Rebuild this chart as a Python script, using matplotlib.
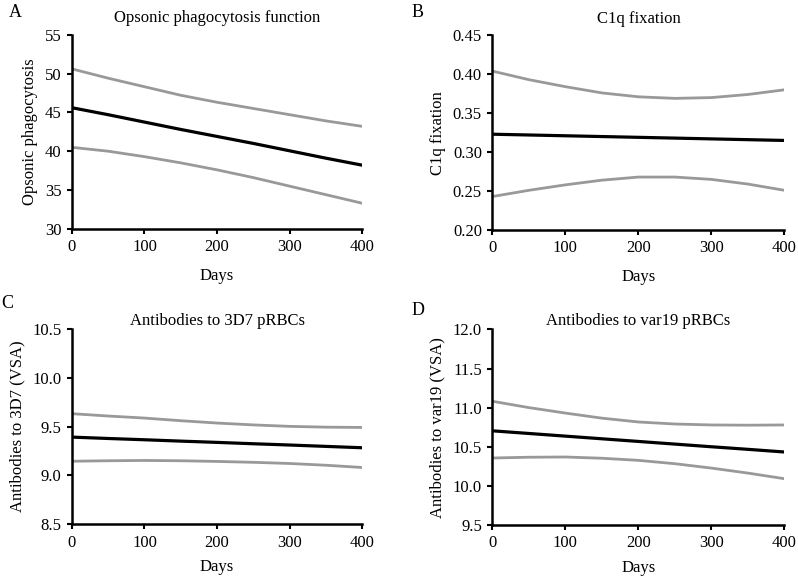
import matplotlib.pyplot as plt

plt.rcParams['font.family'] = ['Liberation Serif', 'DejaVu Serif']
plt.rcParams['font.size'] = 12

days = [0, 50, 100, 150, 200, 250, 300, 350, 400]

# A - opsonic phagocytosis
a_upper = [50.6, 49.4, 48.3, 47.2, 46.3, 45.5, 44.7, 43.9, 43.2]
a_mean = [45.6, 44.7, 43.75, 42.8, 41.9, 41.0, 40.05, 39.1, 38.2]
a_lower = [40.5, 40.0, 39.3, 38.5, 37.6, 36.6, 35.5, 34.4, 33.3]

# B - C1q fixation
b_upper = [0.404, 0.393, 0.384, 0.376, 0.371, 0.369, 0.370, 0.374, 0.380]
b_mean = [0.323, 0.322, 0.321, 0.320, 0.319, 0.318, 0.317, 0.316, 0.315]
b_lower = [0.243, 0.251, 0.258, 0.264, 0.268, 0.268, 0.265, 0.259, 0.251]

# C - 3D7 pRBCs
c_upper = [9.632, 9.608, 9.587, 9.560, 9.536, 9.517, 9.502, 9.494, 9.491]
c_mean = [9.392, 9.378, 9.365, 9.351, 9.338, 9.324, 9.311, 9.297, 9.283]
c_lower = [9.145, 9.150, 9.153, 9.150, 9.143, 9.134, 9.122, 9.104, 9.081]

# D - var19 pRBCs
d_upper = [11.081, 11.0, 10.93, 10.865, 10.816, 10.790, 10.778, 10.775, 10.778]
d_mean = [10.703, 10.669, 10.635, 10.601, 10.567, 10.533, 10.499, 10.466, 10.432]
d_lower = [10.355, 10.365, 10.368, 10.352, 10.325, 10.282, 10.226, 10.162, 10.09]

panels = [
    ('A', 'Opsonic phagocytosis function', 'Opsonic phagocytosis', a_upper, a_mean, a_lower,
     (30, 55), [30, 35, 40, 45, 50, 55], '%d', 9, 9),
    ('B', 'C1q fixation', 'C1q fixation', b_upper, b_mean, b_lower,
     (0.20, 0.45), [0.20, 0.25, 0.30, 0.35, 0.40, 0.45], '%.2f', 9, 9),
    ('C', 'Antibodies to 3D7 pRBCs', 'Antibodies to 3D7 (VSA)', c_upper, c_mean, c_lower,
     (8.5, 10.5), [8.5, 9.0, 9.5, 10.0, 10.5], '%.1f', 3, 6),
    ('D', 'Antibodies to var19 pRBCs', 'Antibodies to var19 (VSA)', d_upper, d_mean, d_lower,
     (9.5, 12.0), [9.5, 10.0, 10.5, 11.0, 11.5, 12.0], '%.1f', 3, 6),
]

rects = [
    [0.090, 0.604, 0.364, 0.336],
    [0.617, 0.602, 0.366, 0.337],
    [0.090, 0.093, 0.364, 0.338],
    [0.617, 0.092, 0.366, 0.338],
]
letter_pos = [(0.011, 0.993), (0.516, 0.993), (0.002, 0.490), (0.516, 0.478)]

fig = plt.figure(figsize=(7.98, 5.78), dpi=100)

for (letter, title, ylab, up, mid, lo, ylim, yt, fmt, tpad, xpad), r, lp in zip(panels, rects, letter_pos):
    ax = fig.add_axes(r)
    ax.plot(days, up, color='#999999', lw=2)
    ax.plot(days, lo, color='#999999', lw=2)
    ax.plot(days, mid, color='black', lw=2.3)
    ax.set_xlim(0, 400)
    ax.set_ylim(*ylim)
    ax.set_xticks([0, 100, 200, 300, 400])
    ax.set_yticks(yt)
    ax.set_yticklabels([fmt % v for v in yt])
    for s in ['top', 'right']:
        ax.spines[s].set_visible(False)
    for s in ['left', 'bottom']:
        ax.spines[s].set_linewidth(1.8)
    ax.tick_params(width=1.5, length=3.5, direction='out', pad=4)
    ax.set_xlabel('Days', labelpad=xpad)
    ax.set_ylabel(ylab, labelpad=5)
    ax.set_title(title, pad=tpad, fontsize=12)
    fig.text(lp[0], lp[1], letter, fontsize=13, va='top', ha='left')

fig.savefig('out.png', dpi=100)
